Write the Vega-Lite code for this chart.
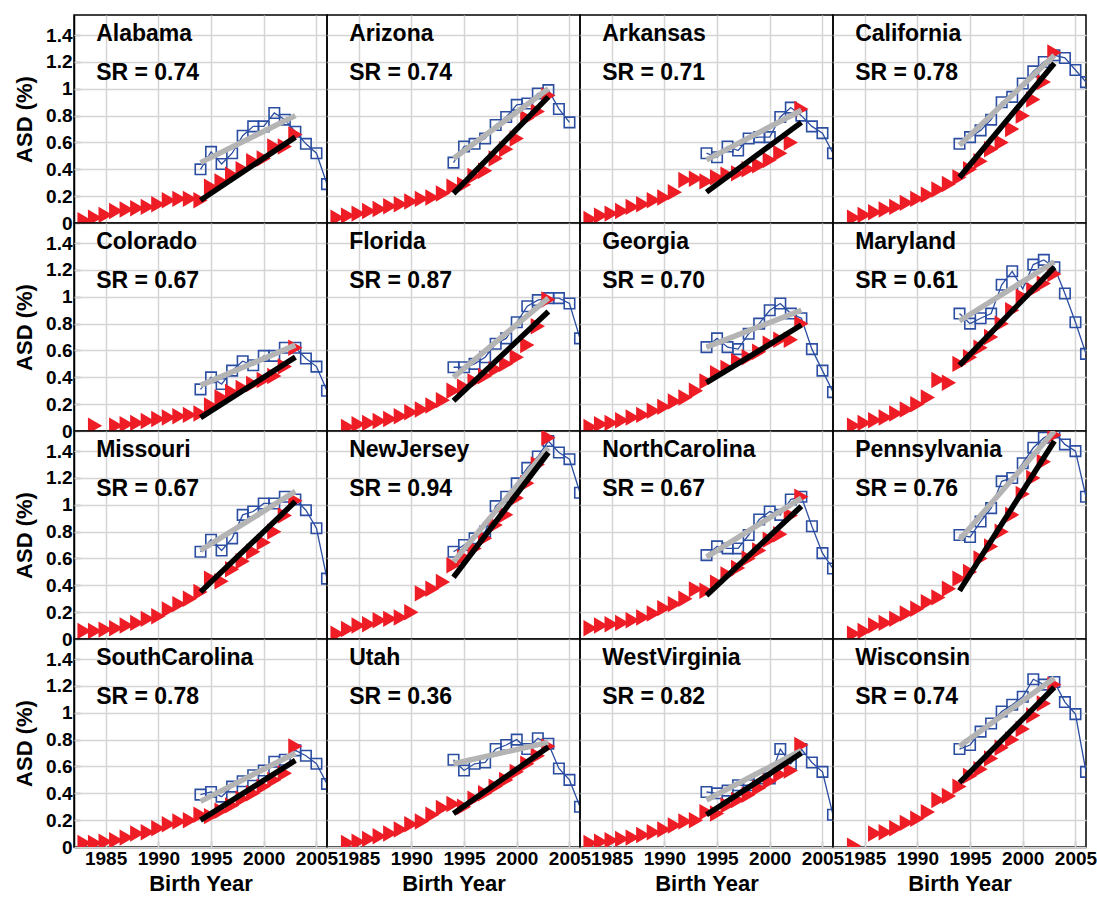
{
"$schema": "https://vega.github.io/schema/vega-lite/v6.json",
"background": "white",
"padding": {"left": 13, "top": 14, "right": 5, "bottom": 5},
"bounds": "flush",
"config": {
  "font": "Liberation Sans",
  "view": {"stroke": "black", "strokeWidth": 1.5},
  "header": {"labels": false, "title": null, "labelFontSize": 0, "labelPadding": 0, "labelExpr": "''"},
  "facet": {"spacing": 0},
  "axis": {"labelFont": "Liberation Sans", "labelFontWeight": "bold", "labelFontSize": 19, "labelColor": "black",
           "titleFont": "Liberation Sans", "titleFontWeight": "bold", "titleFontSize": 22, "titleColor": "black",
           "gridColor": "#d4d4d4", "gridWidth": 1.5, "domainColor": "black", "domainWidth": 1.5,
           "tickColor": "black", "tickSize": -6, "tickWidth": 1.2, "labelPadding": 8, "labelOverlap": false, "labelFlush": false}
},
"data": {"values": [
{"state":"Alabama","series":"label","sr":"SR = 0.74"},
{"state":"Alabama","series":"red","year":1983,"asd":0.02},{"state":"Alabama","series":"red","year":1984,"asd":0.04},{"state":"Alabama","series":"red","year":1985,"asd":0.06},{"state":"Alabama","series":"red","year":1986,"asd":0.09},{"state":"Alabama","series":"red","year":1987,"asd":0.10},{"state":"Alabama","series":"red","year":1988,"asd":0.11},{"state":"Alabama","series":"red","year":1989,"asd":0.12},{"state":"Alabama","series":"red","year":1990,"asd":0.14},{"state":"Alabama","series":"red","year":1991,"asd":0.17},{"state":"Alabama","series":"red","year":1992,"asd":0.18},{"state":"Alabama","series":"red","year":1993,"asd":0.18},{"state":"Alabama","series":"red","year":1994,"asd":0.17},{"state":"Alabama","series":"red","year":1995,"asd":0.27},{"state":"Alabama","series":"red","year":1996,"asd":0.31},{"state":"Alabama","series":"red","year":1997,"asd":0.36},{"state":"Alabama","series":"red","year":1998,"asd":0.40},{"state":"Alabama","series":"red","year":1999,"asd":0.46},{"state":"Alabama","series":"red","year":2000,"asd":0.48},{"state":"Alabama","series":"red","year":2001,"asd":0.57},{"state":"Alabama","series":"red","year":2002,"asd":0.57},{"state":"Alabama","series":"red","year":2003,"asd":0.66},
{"state":"Alabama","series":"blue","year":1994,"asd":0.40},{"state":"Alabama","series":"blue","year":1995,"asd":0.53},{"state":"Alabama","series":"blue","year":1996,"asd":0.44},{"state":"Alabama","series":"blue","year":1997,"asd":0.52},{"state":"Alabama","series":"blue","year":1998,"asd":0.65},{"state":"Alabama","series":"blue","year":1999,"asd":0.72},{"state":"Alabama","series":"blue","year":2000,"asd":0.72},{"state":"Alabama","series":"blue","year":2001,"asd":0.82},{"state":"Alabama","series":"blue","year":2002,"asd":0.77},{"state":"Alabama","series":"blue","year":2003,"asd":0.68},{"state":"Alabama","series":"blue","year":2004,"asd":0.59},{"state":"Alabama","series":"blue","year":2005,"asd":0.52},{"state":"Alabama","series":"blue","year":2006,"asd":0.29},
{"state":"Alabama","series":"fitRed","year":1994,"asd":0.17},{"state":"Alabama","series":"fitRed","year":2003,"asd":0.64},{"state":"Alabama","series":"fitBlue","year":1994,"asd":0.45},{"state":"Alabama","series":"fitBlue","year":2003,"asd":0.80},

{"state":"Arizona","series":"label","sr":"SR = 0.74"},
{"state":"Arizona","series":"red","year":1983,"asd":0.04},{"state":"Arizona","series":"red","year":1984,"asd":0.055},{"state":"Arizona","series":"red","year":1985,"asd":0.07},{"state":"Arizona","series":"red","year":1986,"asd":0.09},{"state":"Arizona","series":"red","year":1987,"asd":0.105},{"state":"Arizona","series":"red","year":1988,"asd":0.125},{"state":"Arizona","series":"red","year":1989,"asd":0.14},{"state":"Arizona","series":"red","year":1990,"asd":0.16},{"state":"Arizona","series":"red","year":1991,"asd":0.18},{"state":"Arizona","series":"red","year":1992,"asd":0.19},{"state":"Arizona","series":"red","year":1993,"asd":0.22},{"state":"Arizona","series":"red","year":1994,"asd":0.27},{"state":"Arizona","series":"red","year":1995,"asd":0.285},{"state":"Arizona","series":"red","year":1996,"asd":0.35},{"state":"Arizona","series":"red","year":1997,"asd":0.39},{"state":"Arizona","series":"red","year":1998,"asd":0.48},{"state":"Arizona","series":"red","year":1999,"asd":0.55},{"state":"Arizona","series":"red","year":2000,"asd":0.63},{"state":"Arizona","series":"red","year":2001,"asd":0.78},{"state":"Arizona","series":"red","year":2002,"asd":0.83},{"state":"Arizona","series":"red","year":2003,"asd":0.95},
{"state":"Arizona","series":"blue","year":1994,"asd":0.45},{"state":"Arizona","series":"blue","year":1995,"asd":0.57},{"state":"Arizona","series":"blue","year":1996,"asd":0.59},{"state":"Arizona","series":"blue","year":1997,"asd":0.63},{"state":"Arizona","series":"blue","year":1998,"asd":0.73},{"state":"Arizona","series":"blue","year":1999,"asd":0.79},{"state":"Arizona","series":"blue","year":2000,"asd":0.88},{"state":"Arizona","series":"blue","year":2001,"asd":0.89},{"state":"Arizona","series":"blue","year":2002,"asd":0.965},{"state":"Arizona","series":"blue","year":2003,"asd":0.99},{"state":"Arizona","series":"blue","year":2004,"asd":0.85},{"state":"Arizona","series":"blue","year":2005,"asd":0.75},
{"state":"Arizona","series":"fitRed","year":1994,"asd":0.22},{"state":"Arizona","series":"fitRed","year":2003,"asd":0.94},{"state":"Arizona","series":"fitBlue","year":1994,"asd":0.48},{"state":"Arizona","series":"fitBlue","year":2003,"asd":1.00},

{"state":"Arkansas","series":"label","sr":"SR = 0.71"},
{"state":"Arkansas","series":"red","year":1983,"asd":0.03},{"state":"Arkansas","series":"red","year":1984,"asd":0.055},{"state":"Arkansas","series":"red","year":1985,"asd":0.07},{"state":"Arkansas","series":"red","year":1986,"asd":0.09},{"state":"Arkansas","series":"red","year":1987,"asd":0.12},{"state":"Arkansas","series":"red","year":1988,"asd":0.14},{"state":"Arkansas","series":"red","year":1989,"asd":0.17},{"state":"Arkansas","series":"red","year":1990,"asd":0.19},{"state":"Arkansas","series":"red","year":1991,"asd":0.23},{"state":"Arkansas","series":"red","year":1992,"asd":0.32},{"state":"Arkansas","series":"red","year":1993,"asd":0.33},{"state":"Arkansas","series":"red","year":1994,"asd":0.31},{"state":"Arkansas","series":"red","year":1995,"asd":0.34},{"state":"Arkansas","series":"red","year":1996,"asd":0.36},{"state":"Arkansas","series":"red","year":1997,"asd":0.37},{"state":"Arkansas","series":"red","year":1998,"asd":0.40},{"state":"Arkansas","series":"red","year":1999,"asd":0.43},{"state":"Arkansas","series":"red","year":2000,"asd":0.47},{"state":"Arkansas","series":"red","year":2001,"asd":0.52},{"state":"Arkansas","series":"red","year":2002,"asd":0.60},{"state":"Arkansas","series":"red","year":2003,"asd":0.85},
{"state":"Arkansas","series":"blue","year":1994,"asd":0.52},{"state":"Arkansas","series":"blue","year":1995,"asd":0.49},{"state":"Arkansas","series":"blue","year":1996,"asd":0.57},{"state":"Arkansas","series":"blue","year":1997,"asd":0.54},{"state":"Arkansas","series":"blue","year":1998,"asd":0.63},{"state":"Arkansas","series":"blue","year":1999,"asd":0.64},{"state":"Arkansas","series":"blue","year":2000,"asd":0.64},{"state":"Arkansas","series":"blue","year":2001,"asd":0.79},{"state":"Arkansas","series":"blue","year":2002,"asd":0.86},{"state":"Arkansas","series":"blue","year":2003,"asd":0.80},{"state":"Arkansas","series":"blue","year":2004,"asd":0.72},{"state":"Arkansas","series":"blue","year":2005,"asd":0.67},{"state":"Arkansas","series":"blue","year":2006,"asd":0.52},
{"state":"Arkansas","series":"fitRed","year":1994,"asd":0.23},{"state":"Arkansas","series":"fitRed","year":2003,"asd":0.75},{"state":"Arkansas","series":"fitBlue","year":1994,"asd":0.47},{"state":"Arkansas","series":"fitBlue","year":2003,"asd":0.84},

{"state":"California","series":"label","sr":"SR = 0.78"},
{"state":"California","series":"red","year":1984,"asd":0.04},{"state":"California","series":"red","year":1985,"asd":0.06},{"state":"California","series":"red","year":1986,"asd":0.08},{"state":"California","series":"red","year":1987,"asd":0.10},{"state":"California","series":"red","year":1988,"asd":0.12},{"state":"California","series":"red","year":1989,"asd":0.15},{"state":"California","series":"red","year":1990,"asd":0.18},{"state":"California","series":"red","year":1991,"asd":0.21},{"state":"California","series":"red","year":1992,"asd":0.25},{"state":"California","series":"red","year":1993,"asd":0.29},{"state":"California","series":"red","year":1994,"asd":0.34},{"state":"California","series":"red","year":1995,"asd":0.40},{"state":"California","series":"red","year":1996,"asd":0.46},{"state":"California","series":"red","year":1997,"asd":0.55},{"state":"California","series":"red","year":1998,"asd":0.60},{"state":"California","series":"red","year":1999,"asd":0.70},{"state":"California","series":"red","year":2000,"asd":0.80},{"state":"California","series":"red","year":2001,"asd":0.92},{"state":"California","series":"red","year":2002,"asd":1.05},{"state":"California","series":"red","year":2003,"asd":1.27},
{"state":"California","series":"blue","year":1994,"asd":0.59},{"state":"California","series":"blue","year":1995,"asd":0.64},{"state":"California","series":"blue","year":1996,"asd":0.69},{"state":"California","series":"blue","year":1997,"asd":0.77},{"state":"California","series":"blue","year":1998,"asd":0.90},{"state":"California","series":"blue","year":1999,"asd":0.94},{"state":"California","series":"blue","year":2000,"asd":1.04},{"state":"California","series":"blue","year":2001,"asd":1.13},{"state":"California","series":"blue","year":2002,"asd":1.20},{"state":"California","series":"blue","year":2003,"asd":1.25},{"state":"California","series":"blue","year":2004,"asd":1.23},{"state":"California","series":"blue","year":2005,"asd":1.14},{"state":"California","series":"blue","year":2006,"asd":1.05},
{"state":"California","series":"fitRed","year":1994,"asd":0.34},{"state":"California","series":"fitRed","year":2003,"asd":1.19},{"state":"California","series":"fitBlue","year":1994,"asd":0.58},{"state":"California","series":"fitBlue","year":2003,"asd":1.25},

{"state":"Colorado","series":"label","sr":"SR = 0.67"},
{"state":"Colorado","series":"red","year":1984,"asd":0.04},{"state":"Colorado","series":"red","year":1986,"asd":0.04},{"state":"Colorado","series":"red","year":1987,"asd":0.05},{"state":"Colorado","series":"red","year":1988,"asd":0.06},{"state":"Colorado","series":"red","year":1989,"asd":0.075},{"state":"Colorado","series":"red","year":1990,"asd":0.09},{"state":"Colorado","series":"red","year":1991,"asd":0.10},{"state":"Colorado","series":"red","year":1992,"asd":0.11},{"state":"Colorado","series":"red","year":1993,"asd":0.12},{"state":"Colorado","series":"red","year":1994,"asd":0.13},{"state":"Colorado","series":"red","year":1995,"asd":0.19},{"state":"Colorado","series":"red","year":1996,"asd":0.25},{"state":"Colorado","series":"red","year":1997,"asd":0.29},{"state":"Colorado","series":"red","year":1998,"asd":0.32},{"state":"Colorado","series":"red","year":1999,"asd":0.35},{"state":"Colorado","series":"red","year":2000,"asd":0.38},{"state":"Colorado","series":"red","year":2001,"asd":0.41},{"state":"Colorado","series":"red","year":2002,"asd":0.48},{"state":"Colorado","series":"red","year":2003,"asd":0.62},
{"state":"Colorado","series":"blue","year":1994,"asd":0.31},{"state":"Colorado","series":"blue","year":1995,"asd":0.40},{"state":"Colorado","series":"blue","year":1996,"asd":0.35},{"state":"Colorado","series":"blue","year":1997,"asd":0.45},{"state":"Colorado","series":"blue","year":1998,"asd":0.52},{"state":"Colorado","series":"blue","year":1999,"asd":0.49},{"state":"Colorado","series":"blue","year":2000,"asd":0.56},{"state":"Colorado","series":"blue","year":2001,"asd":0.56},{"state":"Colorado","series":"blue","year":2002,"asd":0.62},{"state":"Colorado","series":"blue","year":2003,"asd":0.62},{"state":"Colorado","series":"blue","year":2004,"asd":0.54},{"state":"Colorado","series":"blue","year":2005,"asd":0.48},{"state":"Colorado","series":"blue","year":2006,"asd":0.30},
{"state":"Colorado","series":"fitRed","year":1994,"asd":0.10},{"state":"Colorado","series":"fitRed","year":2003,"asd":0.55},{"state":"Colorado","series":"fitBlue","year":1994,"asd":0.34},{"state":"Colorado","series":"fitBlue","year":2003,"asd":0.64},

{"state":"Florida","series":"label","sr":"SR = 0.87"},
{"state":"Florida","series":"red","year":1984,"asd":0.03},{"state":"Florida","series":"red","year":1985,"asd":0.05},{"state":"Florida","series":"red","year":1986,"asd":0.06},{"state":"Florida","series":"red","year":1987,"asd":0.075},{"state":"Florida","series":"red","year":1988,"asd":0.09},{"state":"Florida","series":"red","year":1989,"asd":0.11},{"state":"Florida","series":"red","year":1990,"asd":0.14},{"state":"Florida","series":"red","year":1991,"asd":0.16},{"state":"Florida","series":"red","year":1992,"asd":0.19},{"state":"Florida","series":"red","year":1993,"asd":0.23},{"state":"Florida","series":"red","year":1994,"asd":0.30},{"state":"Florida","series":"red","year":1995,"asd":0.33},{"state":"Florida","series":"red","year":1996,"asd":0.37},{"state":"Florida","series":"red","year":1997,"asd":0.41},{"state":"Florida","series":"red","year":1998,"asd":0.46},{"state":"Florida","series":"red","year":1999,"asd":0.50},{"state":"Florida","series":"red","year":2000,"asd":0.55},{"state":"Florida","series":"red","year":2001,"asd":0.64},{"state":"Florida","series":"red","year":2002,"asd":0.78},{"state":"Florida","series":"red","year":2003,"asd":0.98},
{"state":"Florida","series":"blue","year":1994,"asd":0.475},{"state":"Florida","series":"blue","year":1995,"asd":0.475},{"state":"Florida","series":"blue","year":1996,"asd":0.50},{"state":"Florida","series":"blue","year":1997,"asd":0.55},{"state":"Florida","series":"blue","year":1998,"asd":0.65},{"state":"Florida","series":"blue","year":1999,"asd":0.69},{"state":"Florida","series":"blue","year":2000,"asd":0.81},{"state":"Florida","series":"blue","year":2001,"asd":0.93},{"state":"Florida","series":"blue","year":2002,"asd":0.975},{"state":"Florida","series":"blue","year":2003,"asd":0.99},{"state":"Florida","series":"blue","year":2004,"asd":0.99},{"state":"Florida","series":"blue","year":2005,"asd":0.95},{"state":"Florida","series":"blue","year":2006,"asd":0.69},
{"state":"Florida","series":"fitRed","year":1994,"asd":0.225},{"state":"Florida","series":"fitRed","year":2003,"asd":0.89},{"state":"Florida","series":"fitBlue","year":1994,"asd":0.40},{"state":"Florida","series":"fitBlue","year":2003,"asd":0.99},

{"state":"Georgia","series":"label","sr":"SR = 0.70"},
{"state":"Georgia","series":"red","year":1983,"asd":0.03},{"state":"Georgia","series":"red","year":1984,"asd":0.05},{"state":"Georgia","series":"red","year":1985,"asd":0.06},{"state":"Georgia","series":"red","year":1986,"asd":0.08},{"state":"Georgia","series":"red","year":1987,"asd":0.10},{"state":"Georgia","series":"red","year":1988,"asd":0.12},{"state":"Georgia","series":"red","year":1989,"asd":0.15},{"state":"Georgia","series":"red","year":1990,"asd":0.18},{"state":"Georgia","series":"red","year":1991,"asd":0.22},{"state":"Georgia","series":"red","year":1992,"asd":0.25},{"state":"Georgia","series":"red","year":1993,"asd":0.30},{"state":"Georgia","series":"red","year":1994,"asd":0.37},{"state":"Georgia","series":"red","year":1995,"asd":0.43},{"state":"Georgia","series":"red","year":1996,"asd":0.47},{"state":"Georgia","series":"red","year":1997,"asd":0.52},{"state":"Georgia","series":"red","year":1998,"asd":0.55},{"state":"Georgia","series":"red","year":1999,"asd":0.59},{"state":"Georgia","series":"red","year":2000,"asd":0.65},{"state":"Georgia","series":"red","year":2001,"asd":0.68},{"state":"Georgia","series":"red","year":2002,"asd":0.68},{"state":"Georgia","series":"red","year":2003,"asd":0.80},
{"state":"Georgia","series":"blue","year":1994,"asd":0.625},{"state":"Georgia","series":"blue","year":1995,"asd":0.69},{"state":"Georgia","series":"blue","year":1996,"asd":0.625},{"state":"Georgia","series":"blue","year":1997,"asd":0.61},{"state":"Georgia","series":"blue","year":1998,"asd":0.725},{"state":"Georgia","series":"blue","year":1999,"asd":0.80},{"state":"Georgia","series":"blue","year":2000,"asd":0.90},{"state":"Georgia","series":"blue","year":2001,"asd":0.95},{"state":"Georgia","series":"blue","year":2002,"asd":0.875},{"state":"Georgia","series":"blue","year":2003,"asd":0.84},{"state":"Georgia","series":"blue","year":2004,"asd":0.61},{"state":"Georgia","series":"blue","year":2005,"asd":0.45},{"state":"Georgia","series":"blue","year":2006,"asd":0.29},
{"state":"Georgia","series":"fitRed","year":1994,"asd":0.36},{"state":"Georgia","series":"fitRed","year":2003,"asd":0.79},{"state":"Georgia","series":"fitBlue","year":1994,"asd":0.625},{"state":"Georgia","series":"fitBlue","year":2003,"asd":0.90},

{"state":"Maryland","series":"label","sr":"SR = 0.61"},
{"state":"Maryland","series":"red","year":1984,"asd":0.04},{"state":"Maryland","series":"red","year":1985,"asd":0.06},{"state":"Maryland","series":"red","year":1986,"asd":0.08},{"state":"Maryland","series":"red","year":1987,"asd":0.10},{"state":"Maryland","series":"red","year":1988,"asd":0.13},{"state":"Maryland","series":"red","year":1989,"asd":0.16},{"state":"Maryland","series":"red","year":1990,"asd":0.20},{"state":"Maryland","series":"red","year":1991,"asd":0.25},{"state":"Maryland","series":"red","year":1992,"asd":0.38},{"state":"Maryland","series":"red","year":1993,"asd":0.36},{"state":"Maryland","series":"red","year":1994,"asd":0.50},{"state":"Maryland","series":"red","year":1995,"asd":0.55},{"state":"Maryland","series":"red","year":1996,"asd":0.62},{"state":"Maryland","series":"red","year":1997,"asd":0.70},{"state":"Maryland","series":"red","year":1998,"asd":0.80},{"state":"Maryland","series":"red","year":1999,"asd":0.90},{"state":"Maryland","series":"red","year":2000,"asd":1.00},{"state":"Maryland","series":"red","year":2001,"asd":1.05},{"state":"Maryland","series":"red","year":2002,"asd":1.10},{"state":"Maryland","series":"red","year":2003,"asd":1.17},
{"state":"Maryland","series":"blue","year":1994,"asd":0.875},{"state":"Maryland","series":"blue","year":1995,"asd":0.80},{"state":"Maryland","series":"blue","year":1996,"asd":0.84},{"state":"Maryland","series":"blue","year":1997,"asd":0.875},{"state":"Maryland","series":"blue","year":1998,"asd":1.09},{"state":"Maryland","series":"blue","year":1999,"asd":1.19},{"state":"Maryland","series":"blue","year":2000,"asd":1.06},{"state":"Maryland","series":"blue","year":2001,"asd":1.24},{"state":"Maryland","series":"blue","year":2002,"asd":1.275},{"state":"Maryland","series":"blue","year":2003,"asd":1.22},{"state":"Maryland","series":"blue","year":2004,"asd":1.025},{"state":"Maryland","series":"blue","year":2005,"asd":0.81},{"state":"Maryland","series":"blue","year":2006,"asd":0.575},
{"state":"Maryland","series":"fitRed","year":1994,"asd":0.49},{"state":"Maryland","series":"fitRed","year":2003,"asd":1.22},{"state":"Maryland","series":"fitBlue","year":1994,"asd":0.82},{"state":"Maryland","series":"fitBlue","year":2003,"asd":1.26},

{"state":"Missouri","series":"label","sr":"SR = 0.67"},
{"state":"Missouri","series":"red","year":1983,"asd":0.06},{"state":"Missouri","series":"red","year":1984,"asd":0.06},{"state":"Missouri","series":"red","year":1985,"asd":0.07},{"state":"Missouri","series":"red","year":1986,"asd":0.08},{"state":"Missouri","series":"red","year":1987,"asd":0.10},{"state":"Missouri","series":"red","year":1988,"asd":0.12},{"state":"Missouri","series":"red","year":1989,"asd":0.15},{"state":"Missouri","series":"red","year":1990,"asd":0.17},{"state":"Missouri","series":"red","year":1991,"asd":0.22},{"state":"Missouri","series":"red","year":1992,"asd":0.26},{"state":"Missouri","series":"red","year":1993,"asd":0.30},{"state":"Missouri","series":"red","year":1994,"asd":0.35},{"state":"Missouri","series":"red","year":1995,"asd":0.45},{"state":"Missouri","series":"red","year":1996,"asd":0.43},{"state":"Missouri","series":"red","year":1997,"asd":0.52},{"state":"Missouri","series":"red","year":1998,"asd":0.58},{"state":"Missouri","series":"red","year":1999,"asd":0.65},{"state":"Missouri","series":"red","year":2000,"asd":0.72},{"state":"Missouri","series":"red","year":2001,"asd":0.80},{"state":"Missouri","series":"red","year":2002,"asd":0.92},{"state":"Missouri","series":"red","year":2003,"asd":1.03},
{"state":"Missouri","series":"blue","year":1994,"asd":0.65},{"state":"Missouri","series":"blue","year":1995,"asd":0.74},{"state":"Missouri","series":"blue","year":1996,"asd":0.66},{"state":"Missouri","series":"blue","year":1997,"asd":0.75},{"state":"Missouri","series":"blue","year":1998,"asd":0.925},{"state":"Missouri","series":"blue","year":1999,"asd":0.95},{"state":"Missouri","series":"blue","year":2000,"asd":1.01},{"state":"Missouri","series":"blue","year":2001,"asd":1.01},{"state":"Missouri","series":"blue","year":2002,"asd":1.06},{"state":"Missouri","series":"blue","year":2003,"asd":1.04},{"state":"Missouri","series":"blue","year":2004,"asd":0.96},{"state":"Missouri","series":"blue","year":2005,"asd":0.825},{"state":"Missouri","series":"blue","year":2006,"asd":0.45},
{"state":"Missouri","series":"fitRed","year":1994,"asd":0.35},{"state":"Missouri","series":"fitRed","year":2003,"asd":1.025},{"state":"Missouri","series":"fitBlue","year":1994,"asd":0.66},{"state":"Missouri","series":"fitBlue","year":2003,"asd":1.10},

{"state":"NewJersey","series":"label","sr":"SR = 0.94"},
{"state":"NewJersey","series":"red","year":1983,"asd":0.04},{"state":"NewJersey","series":"red","year":1984,"asd":0.075},{"state":"NewJersey","series":"red","year":1985,"asd":0.10},{"state":"NewJersey","series":"red","year":1986,"asd":0.11},{"state":"NewJersey","series":"red","year":1987,"asd":0.14},{"state":"NewJersey","series":"red","year":1988,"asd":0.15},{"state":"NewJersey","series":"red","year":1989,"asd":0.16},{"state":"NewJersey","series":"red","year":1990,"asd":0.20},{"state":"NewJersey","series":"red","year":1991,"asd":0.34},{"state":"NewJersey","series":"red","year":1992,"asd":0.375},{"state":"NewJersey","series":"red","year":1993,"asd":0.425},{"state":"NewJersey","series":"red","year":1994,"asd":0.55},{"state":"NewJersey","series":"red","year":1995,"asd":0.61},{"state":"NewJersey","series":"red","year":1996,"asd":0.675},{"state":"NewJersey","series":"red","year":1997,"asd":0.75},{"state":"NewJersey","series":"red","year":1998,"asd":0.85},{"state":"NewJersey","series":"red","year":1999,"asd":0.925},{"state":"NewJersey","series":"red","year":2000,"asd":1.05},{"state":"NewJersey","series":"red","year":2001,"asd":1.16},{"state":"NewJersey","series":"red","year":2002,"asd":1.30},{"state":"NewJersey","series":"red","year":2003,"asd":1.50},
{"state":"NewJersey","series":"blue","year":1994,"asd":0.65},{"state":"NewJersey","series":"blue","year":1995,"asd":0.70},{"state":"NewJersey","series":"blue","year":1996,"asd":0.75},{"state":"NewJersey","series":"blue","year":1997,"asd":0.80},{"state":"NewJersey","series":"blue","year":1998,"asd":0.99},{"state":"NewJersey","series":"blue","year":1999,"asd":1.06},{"state":"NewJersey","series":"blue","year":2000,"asd":1.16},{"state":"NewJersey","series":"blue","year":2001,"asd":1.275},{"state":"NewJersey","series":"blue","year":2002,"asd":1.36},{"state":"NewJersey","series":"blue","year":2003,"asd":1.475},{"state":"NewJersey","series":"blue","year":2004,"asd":1.39},{"state":"NewJersey","series":"blue","year":2005,"asd":1.34},{"state":"NewJersey","series":"blue","year":2006,"asd":1.09},
{"state":"NewJersey","series":"fitRed","year":1994,"asd":0.46},{"state":"NewJersey","series":"fitRed","year":2003,"asd":1.39},{"state":"NewJersey","series":"fitBlue","year":1994,"asd":0.575},{"state":"NewJersey","series":"fitBlue","year":2003,"asd":1.425},

{"state":"NorthCarolina","series":"label","sr":"SR = 0.67"},
{"state":"NorthCarolina","series":"red","year":1983,"asd":0.08},{"state":"NorthCarolina","series":"red","year":1984,"asd":0.10},{"state":"NorthCarolina","series":"red","year":1985,"asd":0.11},{"state":"NorthCarolina","series":"red","year":1986,"asd":0.12},{"state":"NorthCarolina","series":"red","year":1987,"asd":0.14},{"state":"NorthCarolina","series":"red","year":1988,"asd":0.16},{"state":"NorthCarolina","series":"red","year":1989,"asd":0.19},{"state":"NorthCarolina","series":"red","year":1990,"asd":0.23},{"state":"NorthCarolina","series":"red","year":1991,"asd":0.26},{"state":"NorthCarolina","series":"red","year":1992,"asd":0.30},{"state":"NorthCarolina","series":"red","year":1993,"asd":0.37},{"state":"NorthCarolina","series":"red","year":1994,"asd":0.36},{"state":"NorthCarolina","series":"red","year":1995,"asd":0.42},{"state":"NorthCarolina","series":"red","year":1996,"asd":0.48},{"state":"NorthCarolina","series":"red","year":1997,"asd":0.53},{"state":"NorthCarolina","series":"red","year":1998,"asd":0.60},{"state":"NorthCarolina","series":"red","year":1999,"asd":0.66},{"state":"NorthCarolina","series":"red","year":2000,"asd":0.74},{"state":"NorthCarolina","series":"red","year":2001,"asd":0.78},{"state":"NorthCarolina","series":"red","year":2002,"asd":0.92},{"state":"NorthCarolina","series":"red","year":2003,"asd":1.06},
{"state":"NorthCarolina","series":"blue","year":1994,"asd":0.625},{"state":"NorthCarolina","series":"blue","year":1995,"asd":0.69},{"state":"NorthCarolina","series":"blue","year":1996,"asd":0.675},{"state":"NorthCarolina","series":"blue","year":1997,"asd":0.675},{"state":"NorthCarolina","series":"blue","year":1998,"asd":0.775},{"state":"NorthCarolina","series":"blue","year":1999,"asd":0.89},{"state":"NorthCarolina","series":"blue","year":2000,"asd":0.95},{"state":"NorthCarolina","series":"blue","year":2001,"asd":0.925},{"state":"NorthCarolina","series":"blue","year":2002,"asd":1.04},{"state":"NorthCarolina","series":"blue","year":2003,"asd":1.06},{"state":"NorthCarolina","series":"blue","year":2004,"asd":0.84},{"state":"NorthCarolina","series":"blue","year":2005,"asd":0.64},{"state":"NorthCarolina","series":"blue","year":2006,"asd":0.525},
{"state":"NorthCarolina","series":"fitRed","year":1994,"asd":0.325},{"state":"NorthCarolina","series":"fitRed","year":2003,"asd":0.99},{"state":"NorthCarolina","series":"fitBlue","year":1994,"asd":0.61},{"state":"NorthCarolina","series":"fitBlue","year":2003,"asd":1.05},

{"state":"Pennsylvania","series":"label","sr":"SR = 0.76"},
{"state":"Pennsylvania","series":"red","year":1984,"asd":0.04},{"state":"Pennsylvania","series":"red","year":1985,"asd":0.06},{"state":"Pennsylvania","series":"red","year":1986,"asd":0.10},{"state":"Pennsylvania","series":"red","year":1987,"asd":0.12},{"state":"Pennsylvania","series":"red","year":1988,"asd":0.15},{"state":"Pennsylvania","series":"red","year":1989,"asd":0.19},{"state":"Pennsylvania","series":"red","year":1990,"asd":0.225},{"state":"Pennsylvania","series":"red","year":1991,"asd":0.275},{"state":"Pennsylvania","series":"red","year":1992,"asd":0.31},{"state":"Pennsylvania","series":"red","year":1993,"asd":0.375},{"state":"Pennsylvania","series":"red","year":1994,"asd":0.45},{"state":"Pennsylvania","series":"red","year":1995,"asd":0.50},{"state":"Pennsylvania","series":"red","year":1996,"asd":0.60},{"state":"Pennsylvania","series":"red","year":1997,"asd":0.69},{"state":"Pennsylvania","series":"red","year":1998,"asd":0.80},{"state":"Pennsylvania","series":"red","year":1999,"asd":0.925},{"state":"Pennsylvania","series":"red","year":2000,"asd":1.08},{"state":"Pennsylvania","series":"red","year":2001,"asd":1.20},{"state":"Pennsylvania","series":"red","year":2002,"asd":1.32},{"state":"Pennsylvania","series":"red","year":2003,"asd":1.52},
{"state":"Pennsylvania","series":"blue","year":1994,"asd":0.775},{"state":"Pennsylvania","series":"blue","year":1995,"asd":0.76},{"state":"Pennsylvania","series":"blue","year":1996,"asd":0.875},{"state":"Pennsylvania","series":"blue","year":1997,"asd":0.975},{"state":"Pennsylvania","series":"blue","year":1998,"asd":1.175},{"state":"Pennsylvania","series":"blue","year":1999,"asd":1.20},{"state":"Pennsylvania","series":"blue","year":2000,"asd":1.31},{"state":"Pennsylvania","series":"blue","year":2001,"asd":1.425},{"state":"Pennsylvania","series":"blue","year":2002,"asd":1.50},{"state":"Pennsylvania","series":"blue","year":2003,"asd":1.54},{"state":"Pennsylvania","series":"blue","year":2004,"asd":1.45},{"state":"Pennsylvania","series":"blue","year":2005,"asd":1.40},{"state":"Pennsylvania","series":"blue","year":2006,"asd":1.06},
{"state":"Pennsylvania","series":"fitRed","year":1994,"asd":0.36},{"state":"Pennsylvania","series":"fitRed","year":2003,"asd":1.475},{"state":"Pennsylvania","series":"fitBlue","year":1994,"asd":0.74},{"state":"Pennsylvania","series":"fitBlue","year":2003,"asd":1.55},

{"state":"SouthCarolina","series":"label","sr":"SR = 0.78"},
{"state":"SouthCarolina","series":"red","year":1983,"asd":0.03},{"state":"SouthCarolina","series":"red","year":1984,"asd":0.03},{"state":"SouthCarolina","series":"red","year":1985,"asd":0.04},{"state":"SouthCarolina","series":"red","year":1986,"asd":0.05},{"state":"SouthCarolina","series":"red","year":1987,"asd":0.07},{"state":"SouthCarolina","series":"red","year":1988,"asd":0.10},{"state":"SouthCarolina","series":"red","year":1989,"asd":0.11},{"state":"SouthCarolina","series":"red","year":1990,"asd":0.14},{"state":"SouthCarolina","series":"red","year":1991,"asd":0.17},{"state":"SouthCarolina","series":"red","year":1992,"asd":0.19},{"state":"SouthCarolina","series":"red","year":1993,"asd":0.20},{"state":"SouthCarolina","series":"red","year":1994,"asd":0.24},{"state":"SouthCarolina","series":"red","year":1995,"asd":0.23},{"state":"SouthCarolina","series":"red","year":1996,"asd":0.27},{"state":"SouthCarolina","series":"red","year":1997,"asd":0.31},{"state":"SouthCarolina","series":"red","year":1998,"asd":0.36},{"state":"SouthCarolina","series":"red","year":1999,"asd":0.40},{"state":"SouthCarolina","series":"red","year":2000,"asd":0.45},{"state":"SouthCarolina","series":"red","year":2001,"asd":0.50},{"state":"SouthCarolina","series":"red","year":2002,"asd":0.55},{"state":"SouthCarolina","series":"red","year":2003,"asd":0.75},
{"state":"SouthCarolina","series":"blue","year":1994,"asd":0.39},{"state":"SouthCarolina","series":"blue","year":1995,"asd":0.41},{"state":"SouthCarolina","series":"blue","year":1996,"asd":0.375},{"state":"SouthCarolina","series":"blue","year":1997,"asd":0.45},{"state":"SouthCarolina","series":"blue","year":1998,"asd":0.49},{"state":"SouthCarolina","series":"blue","year":1999,"asd":0.535},{"state":"SouthCarolina","series":"blue","year":2000,"asd":0.57},{"state":"SouthCarolina","series":"blue","year":2001,"asd":0.635},{"state":"SouthCarolina","series":"blue","year":2002,"asd":0.65},{"state":"SouthCarolina","series":"blue","year":2003,"asd":0.72},{"state":"SouthCarolina","series":"blue","year":2004,"asd":0.68},{"state":"SouthCarolina","series":"blue","year":2005,"asd":0.62},{"state":"SouthCarolina","series":"blue","year":2006,"asd":0.47},
{"state":"SouthCarolina","series":"fitRed","year":1994,"asd":0.20},{"state":"SouthCarolina","series":"fitRed","year":2003,"asd":0.645},{"state":"SouthCarolina","series":"fitBlue","year":1994,"asd":0.34},{"state":"SouthCarolina","series":"fitBlue","year":2003,"asd":0.70},

{"state":"Utah","series":"label","sr":"SR = 0.36"},
{"state":"Utah","series":"red","year":1984,"asd":0.03},{"state":"Utah","series":"red","year":1985,"asd":0.04},{"state":"Utah","series":"red","year":1986,"asd":0.06},{"state":"Utah","series":"red","year":1987,"asd":0.08},{"state":"Utah","series":"red","year":1988,"asd":0.10},{"state":"Utah","series":"red","year":1989,"asd":0.13},{"state":"Utah","series":"red","year":1990,"asd":0.17},{"state":"Utah","series":"red","year":1991,"asd":0.19},{"state":"Utah","series":"red","year":1992,"asd":0.24},{"state":"Utah","series":"red","year":1993,"asd":0.29},{"state":"Utah","series":"red","year":1994,"asd":0.32},{"state":"Utah","series":"red","year":1995,"asd":0.30},{"state":"Utah","series":"red","year":1996,"asd":0.36},{"state":"Utah","series":"red","year":1997,"asd":0.40},{"state":"Utah","series":"red","year":1998,"asd":0.45},{"state":"Utah","series":"red","year":1999,"asd":0.50},{"state":"Utah","series":"red","year":2000,"asd":0.56},{"state":"Utah","series":"red","year":2001,"asd":0.62},{"state":"Utah","series":"red","year":2002,"asd":0.68},{"state":"Utah","series":"red","year":2003,"asd":0.75},
{"state":"Utah","series":"blue","year":1994,"asd":0.65},{"state":"Utah","series":"blue","year":1995,"asd":0.57},{"state":"Utah","series":"blue","year":1996,"asd":0.62},{"state":"Utah","series":"blue","year":1997,"asd":0.63},{"state":"Utah","series":"blue","year":1998,"asd":0.73},{"state":"Utah","series":"blue","year":1999,"asd":0.76},{"state":"Utah","series":"blue","year":2000,"asd":0.80},{"state":"Utah","series":"blue","year":2001,"asd":0.73},{"state":"Utah","series":"blue","year":2002,"asd":0.81},{"state":"Utah","series":"blue","year":2003,"asd":0.77},{"state":"Utah","series":"blue","year":2004,"asd":0.585},{"state":"Utah","series":"blue","year":2005,"asd":0.50},{"state":"Utah","series":"blue","year":2006,"asd":0.30},
{"state":"Utah","series":"fitRed","year":1994,"asd":0.25},{"state":"Utah","series":"fitRed","year":2003,"asd":0.745},{"state":"Utah","series":"fitBlue","year":1994,"asd":0.62},{"state":"Utah","series":"fitBlue","year":2003,"asd":0.78},

{"state":"WestVirginia","series":"label","sr":"SR = 0.82"},
{"state":"WestVirginia","series":"red","year":1983,"asd":0.03},{"state":"WestVirginia","series":"red","year":1984,"asd":0.04},{"state":"WestVirginia","series":"red","year":1985,"asd":0.05},{"state":"WestVirginia","series":"red","year":1986,"asd":0.06},{"state":"WestVirginia","series":"red","year":1987,"asd":0.07},{"state":"WestVirginia","series":"red","year":1988,"asd":0.09},{"state":"WestVirginia","series":"red","year":1989,"asd":0.11},{"state":"WestVirginia","series":"red","year":1990,"asd":0.13},{"state":"WestVirginia","series":"red","year":1991,"asd":0.16},{"state":"WestVirginia","series":"red","year":1992,"asd":0.19},{"state":"WestVirginia","series":"red","year":1993,"asd":0.20},{"state":"WestVirginia","series":"red","year":1994,"asd":0.26},{"state":"WestVirginia","series":"red","year":1995,"asd":0.25},{"state":"WestVirginia","series":"red","year":1996,"asd":0.31},{"state":"WestVirginia","series":"red","year":1997,"asd":0.35},{"state":"WestVirginia","series":"red","year":1998,"asd":0.39},{"state":"WestVirginia","series":"red","year":1999,"asd":0.44},{"state":"WestVirginia","series":"red","year":2000,"asd":0.49},{"state":"WestVirginia","series":"red","year":2001,"asd":0.54},{"state":"WestVirginia","series":"red","year":2002,"asd":0.57},{"state":"WestVirginia","series":"red","year":2003,"asd":0.76},
{"state":"WestVirginia","series":"blue","year":1994,"asd":0.41},{"state":"WestVirginia","series":"blue","year":1995,"asd":0.40},{"state":"WestVirginia","series":"blue","year":1996,"asd":0.42},{"state":"WestVirginia","series":"blue","year":1997,"asd":0.46},{"state":"WestVirginia","series":"blue","year":1998,"asd":0.46},{"state":"WestVirginia","series":"blue","year":1999,"asd":0.51},{"state":"WestVirginia","series":"blue","year":2000,"asd":0.51},{"state":"WestVirginia","series":"blue","year":2001,"asd":0.73},{"state":"WestVirginia","series":"blue","year":2002,"asd":0.62},{"state":"WestVirginia","series":"blue","year":2003,"asd":0.73},{"state":"WestVirginia","series":"blue","year":2004,"asd":0.63},{"state":"WestVirginia","series":"blue","year":2005,"asd":0.56},{"state":"WestVirginia","series":"blue","year":2006,"asd":0.24},
{"state":"WestVirginia","series":"fitRed","year":1994,"asd":0.24},{"state":"WestVirginia","series":"fitRed","year":2003,"asd":0.70},{"state":"WestVirginia","series":"fitBlue","year":1994,"asd":0.35},{"state":"WestVirginia","series":"fitBlue","year":2003,"asd":0.72},

{"state":"Wisconsin","series":"label","sr":"SR = 0.74"},
{"state":"Wisconsin","series":"red","year":1984,"asd":0.01},{"state":"Wisconsin","series":"red","year":1986,"asd":0.10},{"state":"Wisconsin","series":"red","year":1987,"asd":0.11},{"state":"Wisconsin","series":"red","year":1988,"asd":0.14},{"state":"Wisconsin","series":"red","year":1989,"asd":0.18},{"state":"Wisconsin","series":"red","year":1990,"asd":0.21},{"state":"Wisconsin","series":"red","year":1991,"asd":0.26},{"state":"Wisconsin","series":"red","year":1992,"asd":0.35},{"state":"Wisconsin","series":"red","year":1993,"asd":0.38},{"state":"Wisconsin","series":"red","year":1994,"asd":0.45},{"state":"Wisconsin","series":"red","year":1995,"asd":0.53},{"state":"Wisconsin","series":"red","year":1996,"asd":0.58},{"state":"Wisconsin","series":"red","year":1997,"asd":0.66},{"state":"Wisconsin","series":"red","year":1998,"asd":0.74},{"state":"Wisconsin","series":"red","year":1999,"asd":0.80},{"state":"Wisconsin","series":"red","year":2000,"asd":0.88},{"state":"Wisconsin","series":"red","year":2001,"asd":0.98},{"state":"Wisconsin","series":"red","year":2002,"asd":1.07},{"state":"Wisconsin","series":"red","year":2003,"asd":1.21},
{"state":"Wisconsin","series":"blue","year":1994,"asd":0.73},{"state":"Wisconsin","series":"blue","year":1995,"asd":0.76},{"state":"Wisconsin","series":"blue","year":1996,"asd":0.86},{"state":"Wisconsin","series":"blue","year":1997,"asd":0.92},{"state":"Wisconsin","series":"blue","year":1998,"asd":1.01},{"state":"Wisconsin","series":"blue","year":1999,"asd":1.06},{"state":"Wisconsin","series":"blue","year":2000,"asd":1.12},{"state":"Wisconsin","series":"blue","year":2001,"asd":1.25},{"state":"Wisconsin","series":"blue","year":2002,"asd":1.21},{"state":"Wisconsin","series":"blue","year":2003,"asd":1.23},{"state":"Wisconsin","series":"blue","year":2004,"asd":1.08},{"state":"Wisconsin","series":"blue","year":2005,"asd":0.99},{"state":"Wisconsin","series":"blue","year":2006,"asd":0.56},
{"state":"Wisconsin","series":"fitRed","year":1994,"asd":0.48},{"state":"Wisconsin","series":"fitRed","year":2003,"asd":1.19},{"state":"Wisconsin","series":"fitBlue","year":1994,"asd":0.75},{"state":"Wisconsin","series":"fitBlue","year":2003,"asd":1.26}
]},
"facet": {"field": "state", "type": "nominal", "title": null, "header": {"labels": false, "title": null, "labelFontSize": 0, "labelPadding": 0, "labelExpr": "''"}},
"columns": 4,
"spacing": 0,
"spec": {
  "width": 253,
  "height": 208,
  "layer": [
    {"transform": [{"filter": "datum.series === 'blue'"}], "mark": {"type": "line", "color": "#2b4ea2", "strokeWidth": 1.3, "clip": true},
     "encoding": {
      "x": {"field": "year", "type": "quantitative", "scale": {"domain": [1982, 2006], "nice": false, "zero": false},
            "axis": {"title": "Birth Year", "values": [1985, 1990, 1995, 2000, 2005], "format": "d", "titlePadding": 5, "labelOverlap": false, "labelFlush": false}},
      "y": {"field": "asd", "type": "quantitative", "scale": {"domain": [0, 1.55], "nice": false},
            "axis": {"title": "ASD (%)", "values": [0, 0.2, 0.4, 0.6, 0.8, 1, 1.2, 1.4], "format": "~g", "titlePadding": 9, "labelOverlap": false, "labelFlush": false}}}},
    {"transform": [{"filter": "datum.series === 'blue'"}], "mark": {"type": "point", "shape": "square", "filled": false, "stroke": "#2b4ea2", "strokeWidth": 1.6, "size": 110, "opacity": 1, "clip": true},
     "encoding": {
      "x": {"field": "year", "type": "quantitative", "scale": {"domain": [1982, 2006], "nice": false, "zero": false},
            "axis": {"title": "Birth Year", "values": [1985, 1990, 1995, 2000, 2005], "format": "d", "titlePadding": 5, "labelOverlap": false, "labelFlush": false}},
      "y": {"field": "asd", "type": "quantitative", "scale": {"domain": [0, 1.55], "nice": false},
            "axis": {"title": "ASD (%)", "values": [0, 0.2, 0.4, 0.6, 0.8, 1, 1.2, 1.4], "format": "~g", "titlePadding": 9, "labelOverlap": false, "labelFlush": false}}}},
    {"transform": [{"filter": "datum.series === 'red'"}], "mark": {"type": "point", "shape": "triangle-right", "filled": true, "color": "#ee1c25", "size": 270, "opacity": 1, "clip": true},
     "encoding": {
      "x": {"field": "year", "type": "quantitative", "scale": {"domain": [1982, 2006], "nice": false, "zero": false},
            "axis": {"title": "Birth Year", "values": [1985, 1990, 1995, 2000, 2005], "format": "d", "titlePadding": 5, "labelOverlap": false, "labelFlush": false}},
      "y": {"field": "asd", "type": "quantitative", "scale": {"domain": [0, 1.55], "nice": false},
            "axis": {"title": "ASD (%)", "values": [0, 0.2, 0.4, 0.6, 0.8, 1, 1.2, 1.4], "format": "~g", "titlePadding": 9, "labelOverlap": false, "labelFlush": false}}}},
    {"transform": [{"filter": "datum.series === 'fitBlue'"}], "mark": {"type": "line", "color": "#b4b4b4", "strokeWidth": 5.5, "clip": true},
     "encoding": {
      "x": {"field": "year", "type": "quantitative", "scale": {"domain": [1982, 2006], "nice": false, "zero": false},
            "axis": {"title": "Birth Year", "values": [1985, 1990, 1995, 2000, 2005], "format": "d", "titlePadding": 5, "labelOverlap": false, "labelFlush": false}},
      "y": {"field": "asd", "type": "quantitative", "scale": {"domain": [0, 1.55], "nice": false},
            "axis": {"title": "ASD (%)", "values": [0, 0.2, 0.4, 0.6, 0.8, 1, 1.2, 1.4], "format": "~g", "titlePadding": 9, "labelOverlap": false, "labelFlush": false}}}},
    {"transform": [{"filter": "datum.series === 'fitRed'"}], "mark": {"type": "line", "color": "black", "strokeWidth": 5.5, "clip": true},
     "encoding": {
      "x": {"field": "year", "type": "quantitative", "scale": {"domain": [1982, 2006], "nice": false, "zero": false},
            "axis": {"title": "Birth Year", "values": [1985, 1990, 1995, 2000, 2005], "format": "d", "titlePadding": 5, "labelOverlap": false, "labelFlush": false}},
      "y": {"field": "asd", "type": "quantitative", "scale": {"domain": [0, 1.55], "nice": false},
            "axis": {"title": "ASD (%)", "values": [0, 0.2, 0.4, 0.6, 0.8, 1, 1.2, 1.4], "format": "~g", "titlePadding": 9, "labelOverlap": false, "labelFlush": false}}}},
    {"transform": [{"filter": "datum.series === 'label'"}], "mark": {"type": "text", "align": "left", "baseline": "alphabetic", "font": "Liberation Sans", "fontWeight": "bold", "fontSize": 23, "color": "black"},
     "encoding": {
      "x": {"datum": 1984.1, "type": "quantitative", "axis": {"title": "Birth Year", "values": [1985, 1990, 1995, 2000, 2005], "format": "d", "titlePadding": 5, "labelOverlap": false, "labelFlush": false}},
      "y": {"datum": 1.355, "type": "quantitative", "axis": {"title": "ASD (%)", "values": [0, 0.2, 0.4, 0.6, 0.8, 1, 1.2, 1.4], "format": "~g", "titlePadding": 9, "labelOverlap": false, "labelFlush": false}},
      "text": {"field": "state"}}},
    {"transform": [{"filter": "datum.series === 'label'"}], "mark": {"type": "text", "align": "left", "baseline": "alphabetic", "font": "Liberation Sans", "fontWeight": "bold", "fontSize": 23, "color": "black"},
     "encoding": {
      "x": {"datum": 1984.1, "type": "quantitative", "axis": {"title": "Birth Year", "values": [1985, 1990, 1995, 2000, 2005], "format": "d", "titlePadding": 5, "labelOverlap": false, "labelFlush": false}},
      "y": {"datum": 1.065, "type": "quantitative", "axis": {"title": "ASD (%)", "values": [0, 0.2, 0.4, 0.6, 0.8, 1, 1.2, 1.4], "format": "~g", "titlePadding": 9, "labelOverlap": false, "labelFlush": false}},
      "text": {"field": "sr"}}}
  ]
}
}
